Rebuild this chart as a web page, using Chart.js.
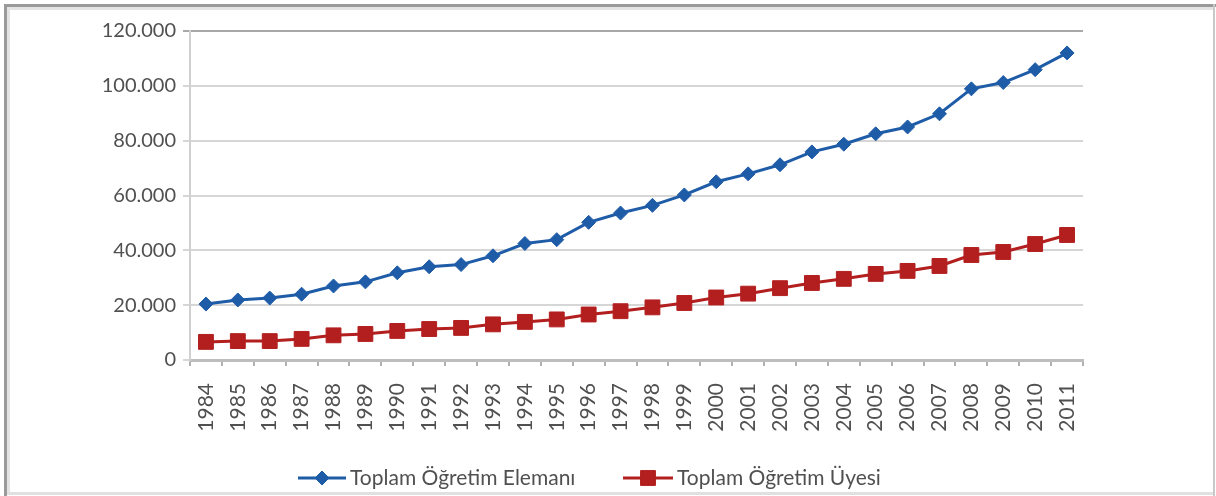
<!DOCTYPE html>
<html>
<head>
<meta charset="utf-8">
<script src="https://cdn.jsdelivr.net/npm/chart.js@4/dist/chart.umd.min.js"></script>
<style>
html,body{margin:0;padding:0;background:#fff;}
#wrap{position:relative;width:1216px;height:496px;}
</style>
</head>
<body>
<div id="wrap"><canvas id="c" width="1216" height="496"></canvas></div>
<script>
const years = ['1984','1985','1986','1987','1988','1989','1990','1991','1992','1993','1994','1995','1996','1997','1998','1999','2000','2001','2002','2003','2004','2005','2006','2007','2008','2009','2010','2011'];
const elemanValues = [20400, 21900, 22600, 24000, 27000, 28500, 31800, 34000, 34800, 38000, 42500, 43900, 50200, 53600, 56400, 60200, 65000, 67900, 71200, 75900, 78700, 82500, 85000, 89800, 98900, 101200, 105900, 112000];
const uyeValues = [6600, 6900, 6900, 7700, 9000, 9500, 10600, 11300, 11700, 13000, 13900, 14800, 16600, 17800, 19200, 20800, 22800, 24200, 26200, 28100, 29600, 31400, 32500, 34300, 38300, 39400, 42300, 45600];
const seriesNames = ['Toplam Öğretim Elemanı', 'Toplam Öğretim Üyesi'];
const yMin = 0, yMax = 120000, yStep = 20000;

const FONT = 'Lato, "Open Sans", sans-serif';
const TEXT = '#505050';
const BLUE = '#1f5ca8';
const RED = '#b31f1f';

function fmt(v){ return String(v).replace(/\B(?=(\d{3})+(?!\d))/g, '.'); }

const framePlugin = {
  id: 'frame',
  beforeDraw(chart){
    const ctx = chart.ctx;
    ctx.save();
    ctx.fillStyle = '#e4e4e4';
    ctx.fillRect(7, 7, 1207, 3);
    ctx.fillRect(7, 7, 3, 487);
    ctx.fillStyle = '#9a9a9a';
    ctx.fillRect(4, 4, 1212, 3);
    ctx.fillRect(4, 4, 3, 492);
    ctx.fillStyle = '#c8c8c8';
    ctx.fillRect(1213, 4, 2, 492);
    ctx.fillStyle = '#e0e0e0';
    ctx.fillRect(7, 492, 1206, 3);
    ctx.restore();
  }
};

const legendPlugin = {
  id: 'customLegend',
  afterDraw(chart){
    const ctx = chart.ctx;
    const items = [
      {ds: chart.data.datasets[0], x0: 298, x1: 346, tx: 350},
      {ds: chart.data.datasets[1], x0: 623, x1: 673, tx: 677}
    ];
    const y = 478;
    ctx.save();
    items.forEach(it => {
      ctx.strokeStyle = it.ds.borderColor;
      ctx.lineWidth = it.ds.borderWidth;
      ctx.beginPath();
      ctx.moveTo(it.x0, y);
      ctx.lineTo(it.x1, y);
      ctx.stroke();
      ctx.fillStyle = it.ds.pointBackgroundColor;
      ctx.strokeStyle = it.ds.pointBorderColor;
      ctx.lineWidth = 1;
      Chart.helpers.drawPoint(ctx, {pointStyle: it.ds.pointStyle, radius: it.ds.pointRadius, borderWidth: 1, rotation: 0}, (it.x0 + it.x1) / 2, y);
      ctx.fillStyle = TEXT;
      ctx.font = '21px ' + FONT;
      ctx.textBaseline = 'middle';
      ctx.textAlign = 'left';
      ctx.fillText(it.ds.label, it.tx, y);
    });
    ctx.restore();
  }
};

new Chart(document.getElementById('c'), {
  type: 'line',
  data: {
    labels: years,
    datasets: [
      {
        label: seriesNames[0],
        data: elemanValues,
        borderColor: BLUE,
        backgroundColor: BLUE,
        borderWidth: 3,
        pointStyle: 'rectRot',
        pointRadius: 7,
        pointBackgroundColor: BLUE,
        pointBorderColor: BLUE,
        pointBorderWidth: 1,
        tension: 0
      },
      {
        label: seriesNames[1],
        data: uyeValues,
        borderColor: RED,
        backgroundColor: RED,
        borderWidth: 3,
        pointStyle: 'rect',
        pointRadius: 10.5,
        pointBackgroundColor: RED,
        pointBorderColor: RED,
        pointBorderWidth: 1,
        tension: 0
      }
    ]
  },
  options: {
    responsive: false,
    animation: false,
    layout: {padding: {left: 0, right: 133, top: 31, bottom: 0}},
    plugins: {legend: {display: false}, tooltip: {enabled: false}},
    scales: {
      x: {
        type: 'category',
        offset: true,
        grid: {
          offset: true,
          drawOnChartArea: false,
          drawTicks: true,
          tickLength: 6,
          color: '#b0b0b0',
          lineWidth: 2
        },
        border: {display: true, color: '#bdbdbd', width: 3},
        ticks: {
          autoSkip: false,
          minRotation: 90,
          maxRotation: 90,
          padding: 17,
          color: TEXT,
          font: {family: FONT, size: 21}
        },
        afterFit(scale){ scale.height = 136; }
      },
      y: {
        min: yMin,
        max: yMax,
        ticks: {
          stepSize: yStep,
          padding: 7,
          color: TEXT,
          font: {family: FONT, size: 20},
          callback: v => fmt(v)
        },
        grid: {
          drawTicks: true,
          tickLength: 7,
          lineWidth: 2,
          color: ctx => (ctx.tick && ctx.tick.value === yMax) ? '#a8a8a8' : '#d6d6d6'
        },
        border: {display: true, color: '#d0d0d0', width: 2},
        afterFit(scale){ scale.width = 190; }
      }
    }
  },
  plugins: [framePlugin, legendPlugin]
});
</script>
</body>
</html>
